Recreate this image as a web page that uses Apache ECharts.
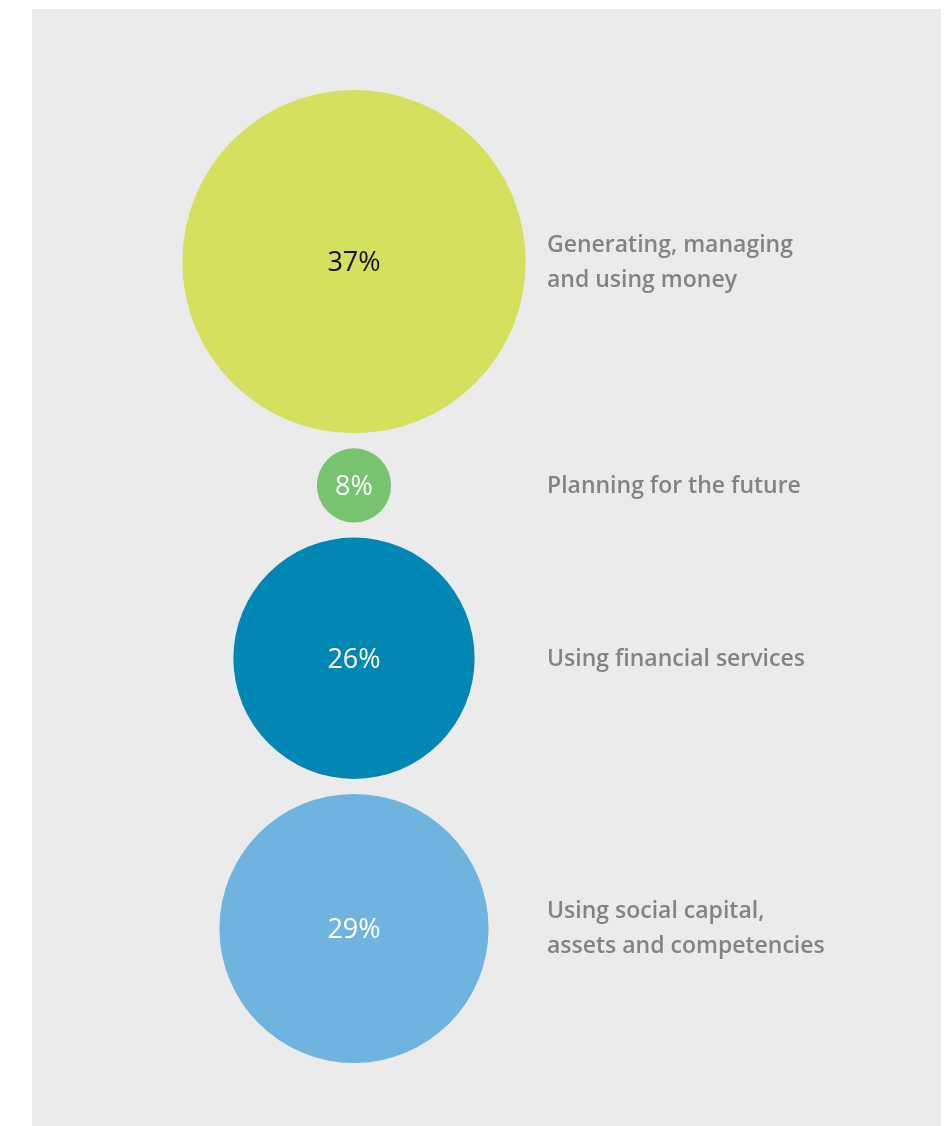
<!DOCTYPE html>
<html>
<head>
<meta charset="utf-8">
<script src="https://cdn.jsdelivr.net/npm/echarts@6/dist/echarts.min.js"></script>
<style>
  html, body { margin: 0; padding: 0; background: #ffffff; }
  #chart { width: 945px; height: 1126px; }
</style>
</head>
<body>
<div id="chart"></div>
<script>
// Share of respondents by financial capability area
const categories = [
  'Generating, managing\nand using money',
  'Planning for the future',
  'Using financial services',
  'Using social capital,\nassets and competencies'
];
const shares = [37, 8, 26, 29];
const colors = ['#d5e15e', '#78c36f', '#0087b3', '#6eb4de'];
const valueTextColors = ['#111111', '#ffffff', '#ffffff', '#ffffff'];

// Bubble radius grows linearly with the share; bubbles are stacked top to bottom
const RADIUS_PER_POINT = 4.64;
const GAP = 15;
const TOP = 81;
const CENTER_X = 322;
const TEXT_X = 515;

const centers = [];
let cursor = TOP;
shares.forEach(function (v) {
  const r = v * RADIUS_PER_POINT;
  centers.push(cursor + r);
  cursor += 2 * r + GAP;
});

const bubbleData = shares.map(function (v, i) {
  return {
    value: [CENTER_X, centers[i], v],
    itemStyle: { color: colors[i], opacity: 1 },
    label: { color: valueTextColors[i] }
  };
});
const textData = categories.map(function (c, i) {
  return { value: [TEXT_X, centers[i]], name: c };
});

const chart = echarts.init(document.getElementById('chart'), null, { renderer: 'canvas' });
chart.setOption({
  animation: false,
  backgroundColor: '#ffffff',
  grid: {
    left: 32, top: 9, right: 4, bottom: 0,
    show: true, backgroundColor: '#ebebeb', borderWidth: 0
  },
  xAxis: { type: 'value', min: 0, max: 909, show: false },
  yAxis: { type: 'value', min: 0, max: 1117, inverse: true, show: false },
  series: [
    {
      type: 'scatter',
      data: bubbleData,
      symbol: 'circle',
      symbolSize: function (val) { return val[2] * RADIUS_PER_POINT * 2; },
      itemStyle: { opacity: 1 },
      emphasis: { disabled: true },
      label: {
        show: true,
        position: 'inside',
        fontFamily: 'Open Sans',
        fontSize: 27,
        fontWeight: 500,
        offset: [0, 2],
        formatter: function (p) { return p.value[2] + '%'; }
      }
    },
    {
      type: 'scatter',
      data: textData,
      symbolSize: 0,
      silent: true,
      label: {
        show: true,
        position: 'right',
        distance: 0,
        align: 'left',
        fontFamily: 'Open Sans',
        fontSize: 23,
        fontWeight: 600,
        lineHeight: 35,
        offset: [0, 1],
        color: '#68696b',
        formatter: function (p) { return p.name; }
      }
    }
  ]
});
</script>
</body>
</html>
